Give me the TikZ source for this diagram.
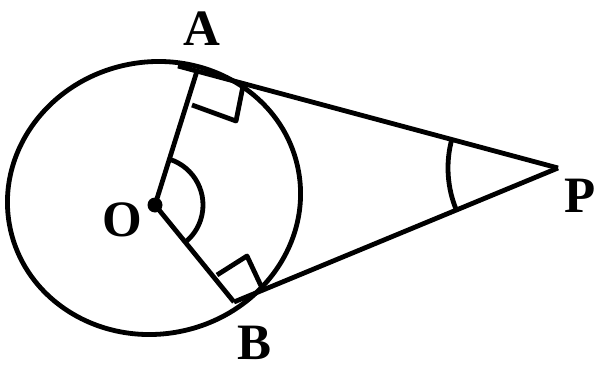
\documentclass[tikz,border=0pt]{standalone}
\usepackage{fontspec}
\setmainfont{Liberation Serif}
\begin{document}
\begin{tikzpicture}[x=1pt,y=-1pt, line width=4.8pt, line join=round,
  lbl/.style={font=\fontsize{51}{51}\selectfont\bfseries, inner sep=0pt},
  dot/.style={circle, fill, inner sep=0pt, minimum size=15pt}]
\useasboundingbox (0,0) rectangle (600,372);
\coordinate (C) at (154,198);
\node[dot] (O) at (155,205) {};
\coordinate (A) at (197,71);
\coordinate (B) at (234,302);
\coordinate (P) at (558,168);
\coordinate (Ax) at (178,66);
% circle
\draw[rotate around={12:(C)}] (C) ellipse [x radius=147, y radius=136];
% radii and tangents
\draw (O.center) -- (A);
\draw (O.center) -- (B);
\draw (Ax) -- (P);
\draw (B) -- (P);
% right angle marks
\coordinate (A1) at (192,105);
\coordinate (A2) at (236,121);
\coordinate (A3) at (243,86);
\draw (A1) -- (A2) -- (A3);
\coordinate (B1) at (217,275);
\coordinate (B2) at (247,256);
\coordinate (B3) at (262,288);
\draw (B1) -- (B2) -- (B3);
% angle arcs
\draw (O.center) ++(-72.5:48) arc[start angle=-72.5, end angle=50.8, radius=48];
\draw (P) ++(195:110) arc[start angle=195, end angle=157.6, radius=110];
% labels
\node[lbl] (lA) at (202,29) {A};
\node[lbl] (lO) at (122,220) {O};
\node[lbl] (lB) at (255,343) {B};
\node[lbl] (lP) at (580,196) {P};
\end{tikzpicture}
\end{document}
